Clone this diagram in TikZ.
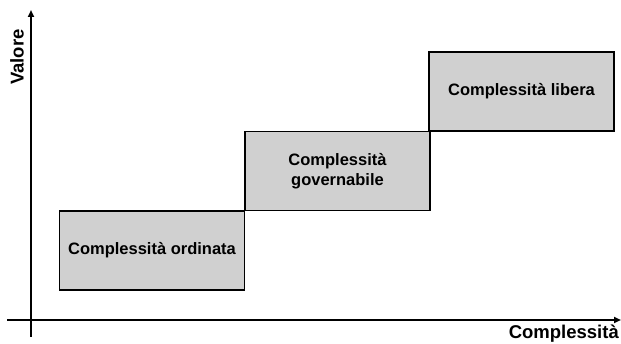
\documentclass[tikz,border=0pt]{standalone}
\usepackage{fontspec}
\setmainfont{Liberation Sans}
\usetikzlibrary{arrows.meta}
\definecolor{boxfill}{RGB}{208,208,208}
\begin{document}
\begin{tikzpicture}[x=1pt,y=-1pt,
  level/.style={draw=black,line width=1.4pt,fill=boxfill,minimum width=185pt,
    minimum height=79pt,inner sep=0pt,align=center,
    font=\fontsize{16.5}{20}\selectfont\bfseries},
  axis/.style={line width=1.8pt,-{Triangle[length=7pt,width=6pt]}},
  axislabel/.style={font=\fontsize{18.5}{22}\selectfont\bfseries,inner sep=0pt}]
\useasboundingbox (0,0) rectangle (621,344);
% axes
\coordinate (yb) at (31,337);
\coordinate (yt) at (31,10);
\coordinate (xl) at (7,320);
\coordinate (xr) at (621,320);
\draw[axis] (yb) -- (yt);
\draw[axis] (xl) -- (xr);
\node[axislabel,rotate=90] (vlab) at (17,57) {Valore};
\node[axislabel,anchor=east] (clab) at (619,334) {Complessità};
% staircase of levels
\node[level] (ord) at (152,250.5) {Complessità ordinata};
\node[level] (gov) at (337.5,171) {Complessità\\governabile};
\node[level] (lib) at (521.5,91.5) {Complessità libera};
\end{tikzpicture}
\end{document}
